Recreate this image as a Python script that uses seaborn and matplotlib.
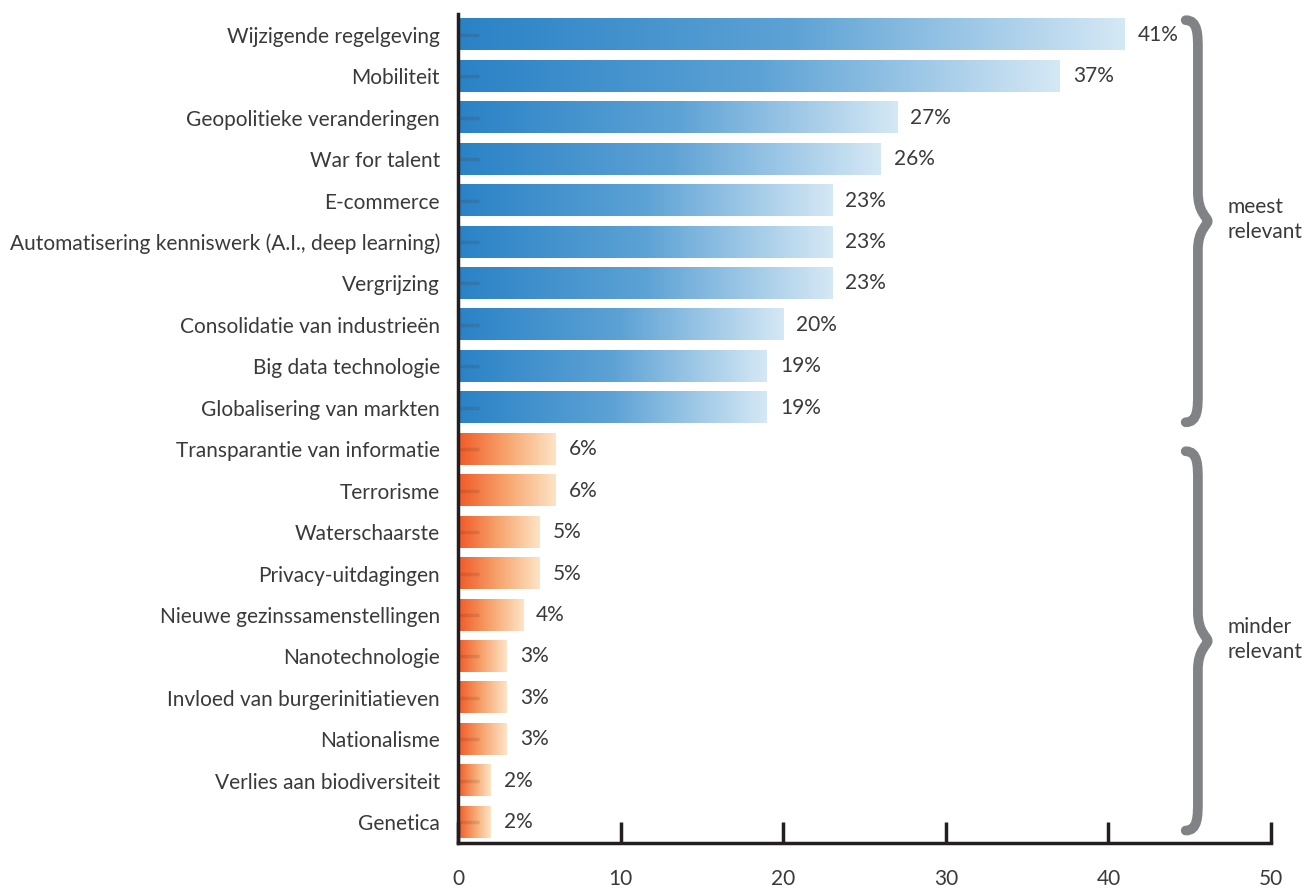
import numpy as np
import pandas as pd
import matplotlib
matplotlib.use("Agg")
import matplotlib.pyplot as plt
import seaborn as sns
from matplotlib.colors import LinearSegmentedColormap
from matplotlib.path import Path
from matplotlib.patches import PathPatch

categories = [
    "Wijzigende regelgeving", "Mobiliteit", "Geopolitieke veranderingen",
    "War for talent", "E-commerce",
    "Automatisering kenniswerk (A.I., deep learning)", "Vergrijzing",
    "Consolidatie van industrieën", "Big data technologie",
    "Globalisering van markten", "Transparantie van informatie",
    "Terrorisme", "Waterschaarste", "Privacy-uitdagingen",
    "Nieuwe gezinssamenstellingen", "Nanotechnologie",
    "Invloed van burgerinitiatieven", "Nationalisme",
    "Verlies aan biodiversiteit", "Genetica",
]
values = [41, 37, 27, 26, 23, 23, 23, 20, 19, 19, 6, 6, 5, 5, 4, 3, 3, 3, 2, 2]
groups = ["meest relevant"] * 10 + ["minder relevant"] * 10
x_ticks = [0, 10, 20, 30, 40, 50]

sns.set_theme(style="white")
plt.rcParams["font.family"] = ["Lato", "DejaVu Sans"]

FS = 15
TXT = "#3a3a3a"

df = pd.DataFrame({"cat": categories, "val": values, "grp": groups})

fig = plt.figure(figsize=(13.15, 8.91), dpi=100)
ax = fig.add_axes([0.3483, 0.0539, 0.6183, 0.9304])
ax.set_axisbelow(False)

sns.barplot(data=df, y="cat", x="val", hue="grp", orient="h", dodge=False,
            palette={"meest relevant": "#2b83c6", "minder relevant": "#f05a28"},
            width=0.75, legend=False, ax=ax)

cmap_blue = LinearSegmentedColormap.from_list("b", ["#2a82c6", "#5da2d5", "#d5e8f5"])
cmap_orange = LinearSegmentedColormap.from_list("o", ["#f05a28", "#f7a56e", "#fde4c6"])
grad = np.linspace(0, 1, 256).reshape(1, -1)

for p in list(ax.patches):
    w = p.get_width()
    if w <= 0:
        continue
    x0, y0, h = p.get_x(), p.get_y(), p.get_height()
    yc = y0 + h / 2
    idx = int(round(yc))
    cmap = cmap_blue if idx < 10 else cmap_orange
    ax.imshow(grad, cmap=cmap, extent=[x0, x0 + w, y0 + h, y0], aspect="auto",
              zorder=1, interpolation="bicubic")
    p.set_visible(False)

for i, v in enumerate(values):
    ax.text(v + 0.8, i, f"{v}%", va="center", ha="left", fontsize=FS,
            color=TXT)

ax.set_xlim(0, 50)
ax.set_ylim(19.5, -0.5)
ax.set_xticks(x_ticks)
ax.set_xticklabels([str(t) for t in x_ticks])
ax.set_xlabel("")
ax.set_ylabel("")

for s in ["top", "right"]:
    ax.spines[s].set_visible(False)
for s in ["left", "bottom"]:
    ax.spines[s].set_color("#231f20")
    ax.spines[s].set_linewidth(2.5)

ax.tick_params(axis="x", bottom=True, direction="in", length=15, width=2.5,
               color="#231f20", pad=19, labelsize=FS, labelcolor=TXT)
ax.tick_params(axis="y", left=True, direction="in", length=15, width=2.5,
               color=(0.35, 0.15, 0.05, 0.15), pad=13, labelsize=FS, labelcolor=TXT)

# curly braces
def brace(ax, x_left, x_mid, x_tip, y_top, y_bot):
    ym = (y_top + y_bot) / 2
    c = 0.35
    verts = [
        (x_left, y_top),
        (x_mid, y_top), (x_mid, y_top + c), (x_mid, y_top + 2 * c),
        (x_mid, ym - 2 * c),
        (x_mid, ym - 0.2), (x_tip, ym - 0.1), (x_tip, ym),
        (x_tip, ym + 0.1), (x_mid, ym + 0.2), (x_mid, ym + 2 * c),
        (x_mid, y_bot - 2 * c),
        (x_mid, y_bot - c), (x_mid, y_bot), (x_left, y_bot),
    ]
    codes = [Path.MOVETO,
             Path.CURVE4, Path.CURVE4, Path.CURVE4,
             Path.LINETO,
             Path.CURVE4, Path.CURVE4, Path.CURVE4,
             Path.CURVE4, Path.CURVE4, Path.CURVE4,
             Path.LINETO,
             Path.CURVE4, Path.CURVE4, Path.CURVE4]
    patch = PathPatch(Path(verts, codes), facecolor="none", edgecolor="#808285",
                      linewidth=7, capstyle="round", clip_on=False, zorder=3)
    ax.add_patch(patch)

brace(ax, 44.75, 45.5, 46.1, -0.35, 9.35)
brace(ax, 44.75, 45.5, 46.1, 10.05, 19.2)

ax.text(47.3, 4.45, "meest\nrelevant", ha="left", va="center", fontsize=FS,
        color=TXT, linespacing=1.3, clip_on=False)
ax.text(47.3, 14.6, "minder\nrelevant", ha="left", va="center", fontsize=FS,
        color=TXT, linespacing=1.3, clip_on=False)

fig.savefig("out.png", dpi=100)
